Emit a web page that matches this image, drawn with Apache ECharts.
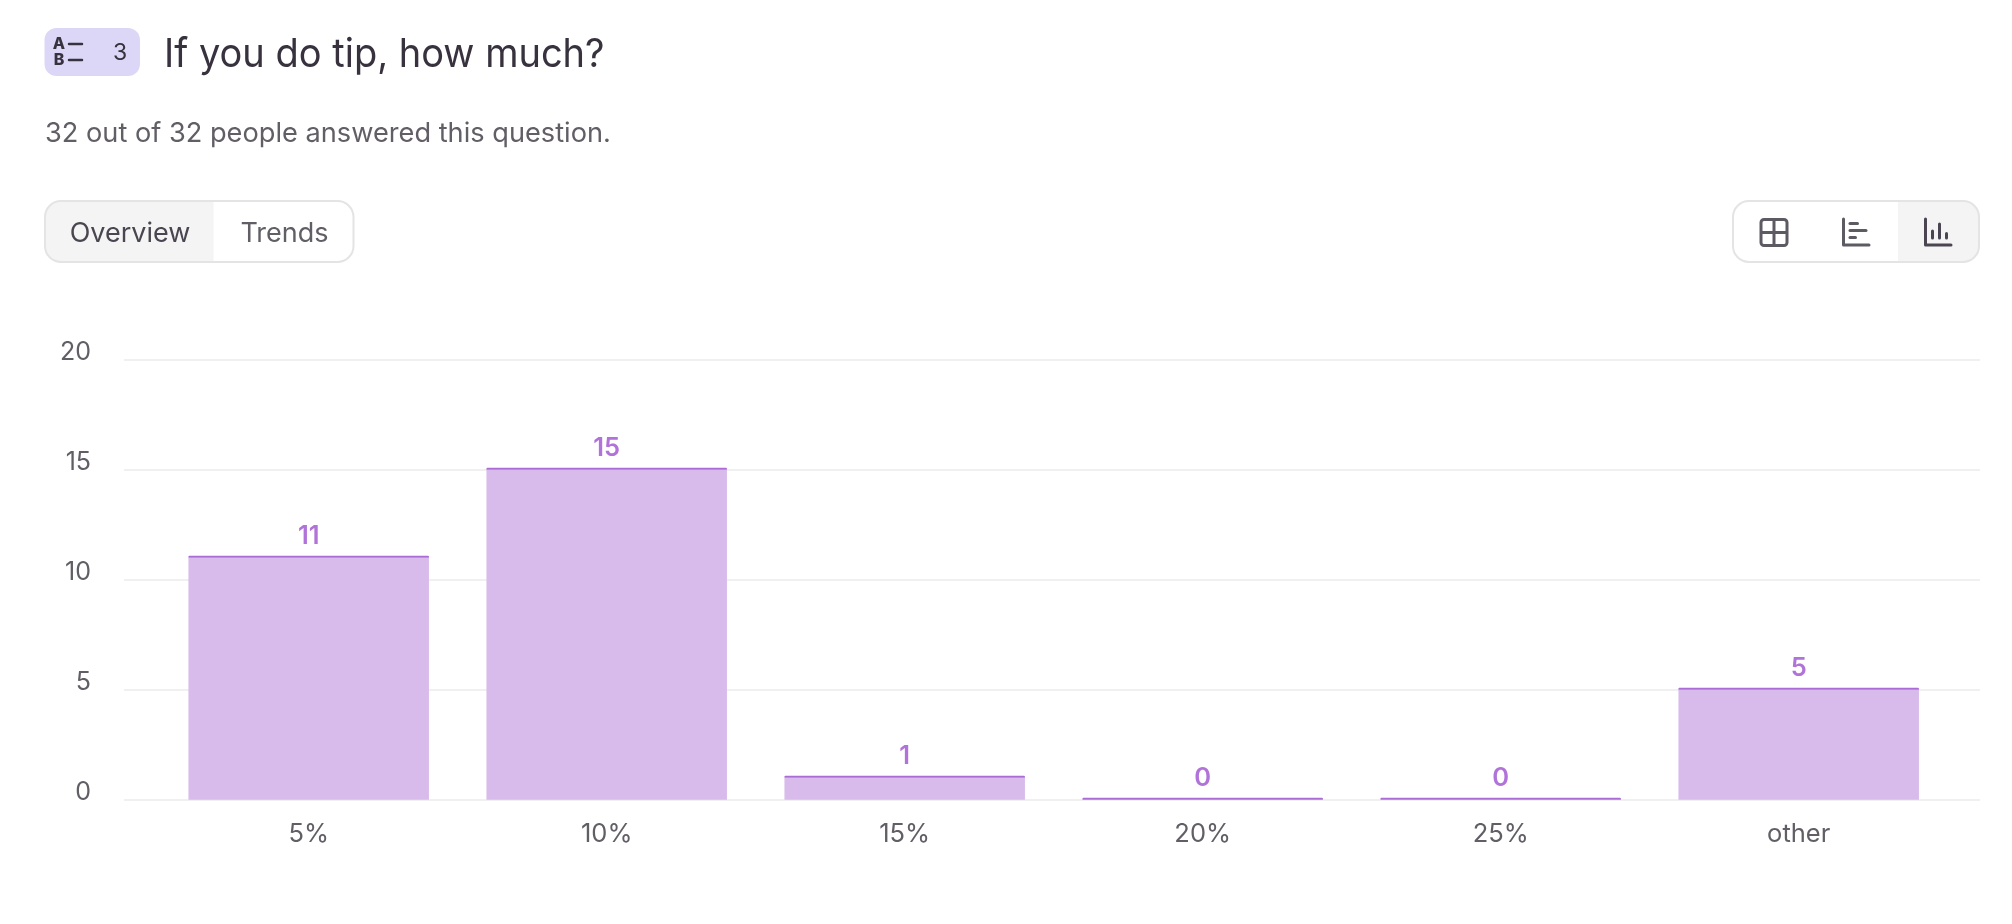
<!DOCTYPE html>
<html><head><meta charset="utf-8">
<style>html,body{margin:0;padding:0;background:#fff}#c{width:2012px;height:924px}</style>
<script src="https://cdn.jsdelivr.net/npm/echarts@6/dist/echarts.min.js"></script>
</head><body><div id="c"></div>
<script>
const categories = ['5%','10%','15%','20%','25%','other'];
const answers = [11,15,1,0,0,5];
const yTicks = [0,5,10,15,20];
const titleText = 'If you do tip, how much?';
const subtitleText = '32 out of 32 people answered this question.';
const questionNumber = '3';
const tabs = ['Overview','Trends'];

const FONT='Inter';
const GRAY='#625E66', DARK='#37323E', ICON='#5E5A63', BORDER='#E4E4E4', ACTIVE='#F4F4F4';
const BAR='#D8BAEB', CAP='#AB6CD6', LABEL='#B173D9', GRID='#F0F0F0';
const BAR_RATIO=0.807;

const line=(x1,y1,x2,y2,c,w)=>({type:'line',shape:{x1,y1,x2,y2},style:{stroke:c,lineWidth:w,lineCap:'round',fill:null},silent:true});
const txt=(x,y,text,size,fill,align,weight)=>({type:'text',x,y,style:{text,font:`${weight||400} ${size}px ${FONT}`,fill,align:align||'left',verticalAlign:'middle'},silent:true});
const box=(x,y,w,h,r,fill,stroke,lw)=>({type:'rect',shape:{x,y,width:w,height:h,r},style:{fill:fill||'transparent',stroke:stroke||null,lineWidth:lw||0},silent:true});

const decor=[
  box(44.5,28,95.5,48,12,'#DCD7F7'),
  txt(59,44.5,'A',16,DARK,'center',800), txt(59,60.5,'B',16,DARK,'center',800),
  line(69,44,82,44,DARK,2.5), line(69,60,82,60,DARK,2.5),
  txt(120,53,questionNumber,23,DARK,'center',400),
  Object.assign(txt(164,54.5,titleText,40,DARK,'left',400),{scaleX:0.95}),
  txt(45,134,subtitleText,27.2,GRAY,'left',400),
  // tabs
  box(45,201,308.5,61,16,'#fff'),
  {type:'rect',shape:{x:45,y:201,width:168.5,height:61,r:[16,0,0,16]},style:{fill:ACTIVE},silent:true},
  box(45,201,308.5,61,16,null,BORDER,2),
  txt(130,233.5,tabs[0],27,'#4A4550','center',400),
  txt(284.5,233.5,tabs[1],27,GRAY,'center',400),
  // toggle
  {type:'rect',shape:{x:1898,y:201,width:81,height:61,r:[0,16,16,0]},style:{fill:ACTIVE},silent:true},
  box(1733,201,246,61,16,null,BORDER,2),
  // icon 1
  box(1761,219.5,26,26,3,null,ICON,3), line(1774,220,1774,245,ICON,3), line(1761.5,232.5,1786.5,232.5,ICON,3),
  // icon 2
  {type:'polyline',shape:{points:[[1843.5,219],[1843.5,245],[1869,245]]},style:{stroke:ICON,lineWidth:3,lineCap:'round',lineJoin:'round',fill:null},silent:true},
  line(1850,223.5,1857.5,223.5,ICON,3), line(1850,230.5,1866,230.5,ICON,3), line(1850,237.5,1855.5,237.5,ICON,3),
  // icon 3
  {type:'polyline',shape:{points:[[1925.5,219],[1925.5,245],[1951,245]]},style:{stroke:'#4A4550',lineWidth:3,lineCap:'round',lineJoin:'round',fill:null},silent:true},
  line(1932.5,231,1932.5,238,'#4A4550',3), line(1939.5,224,1939.5,238,'#4A4550',3), line(1946.5,233.5,1946.5,238,'#4A4550',3)
];

const chart=echarts.init(document.getElementById('c'),null,{renderer:'canvas'});
chart.setOption({
  animation:false,
  backgroundColor:'#fff',
  textStyle:{fontFamily:FONT},
  graphic:{elements:decor},
  grid:[
    {left:159.7,width:1788,top:359.7,height:440},
    {left:124,width:1856,top:359.7,height:440}
  ],
  xAxis:[
    {type:'category',gridIndex:0,data:categories,axisLine:{show:false},axisTick:{show:false},
     axisLabel:{color:GRAY,fontFamily:FONT,fontSize:25.5,margin:22}},
    {type:'value',gridIndex:1,min:0,max:1,show:false}
  ],
  yAxis:[
    {type:'value',gridIndex:0,min:yTicks[0],max:yTicks[yTicks.length-1],interval:yTicks[1]-yTicks[0],show:false},
    {type:'value',gridIndex:1,min:yTicks[0],max:yTicks[yTicks.length-1],interval:yTicks[1]-yTicks[0],
     axisLine:{show:false},axisTick:{show:false},
     axisLabel:{color:GRAY,fontFamily:FONT,fontSize:25,margin:33,verticalAlign:'bottom',lineHeight:14},
     splitLine:{show:true,lineStyle:{color:GRID,width:2}}}
  ],
  series:[
    {type:'bar',xAxisIndex:0,yAxisIndex:0,data:answers,barWidth:(BAR_RATIO*100)+'%',
     itemStyle:{color:BAR},z:3,
     label:{show:true,position:'top',distance:8,color:LABEL,fontFamily:FONT,fontSize:25.5,fontWeight:600}},
    {type:'custom',xAxisIndex:0,yAxisIndex:0,z:4,data:answers.map((v,i)=>[i,v]),
     encode:{x:0,y:1},
     renderItem:(params,api)=>{
       const p=api.coord([api.value(0),api.value(1)]);
       const w=api.size([1,0])[0]*BAR_RATIO;
       return {type:'rect',shape:{x:p[0]-w/2,y:p[1]-2,width:w,height:2,r:[1,1,0,0]},style:{fill:CAP}};
     }}
  ]
});
</script></body></html>
